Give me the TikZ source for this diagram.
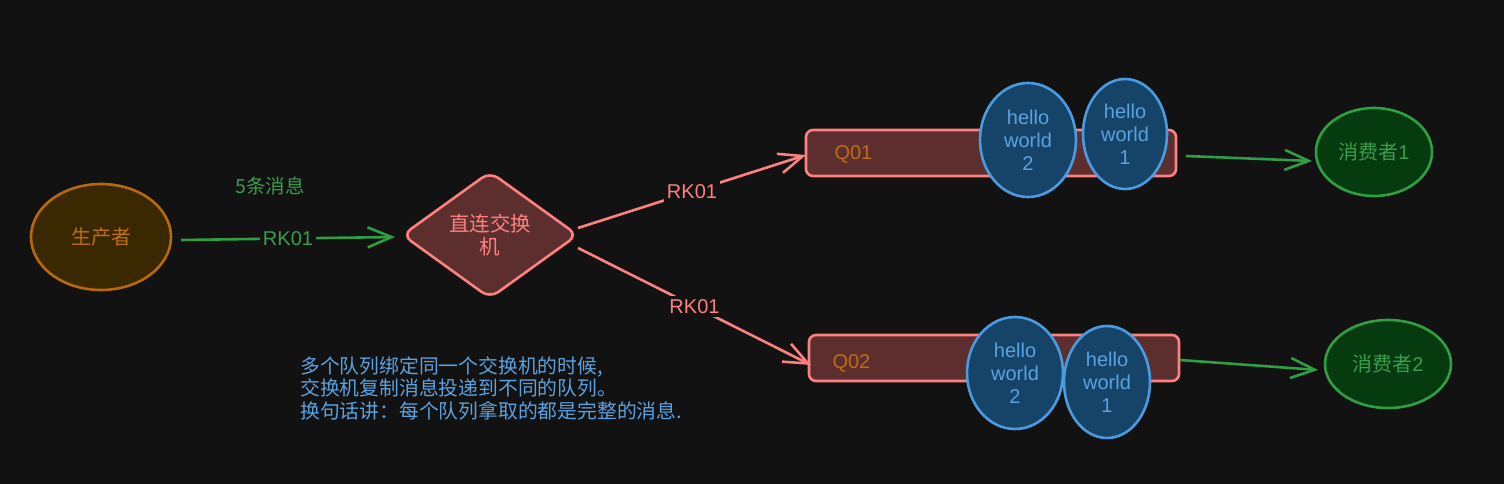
\documentclass[tikz,border=0pt]{standalone}
\usepackage{fontspec}
\setmainfont{Liberation Sans}
\newfontfamily\cjk{Noto Sans CJK SC}
\usetikzlibrary{arrows.meta,shapes.geometric,calc}
\definecolor{bg}{HTML}{121212}
\definecolor{ostroke}{HTML}{B8680A}
\definecolor{ofill}{HTML}{3A2800}
\definecolor{otext}{HTML}{C06C12}
\definecolor{pstroke}{HTML}{FF8080}
\definecolor{pfill}{HTML}{5C2E2E}
\definecolor{bstroke}{HTML}{4A9BE0}
\definecolor{bfill}{HTML}{164468}
\definecolor{btext}{HTML}{5AA2E0}
\definecolor{gstroke}{HTML}{2F9E44}
\definecolor{gfill}{HTML}{053B0F}
\definecolor{gtext}{HTML}{3A9D4C}
\tikzset{
  lbl/.style={font=\fontsize{20}{22}\selectfont, inner sep=3pt},
  ellbox/.style={ellipse, line width=2.6pt, inner sep=0pt, align=center},
  prod/.style={ellbox, draw=ostroke, fill=ofill, text=otext, font=\cjk\fontsize{20}{24}\selectfont},
  cons/.style={ellbox, draw=gstroke, fill=gfill, text=gtext, font=\fontsize{20}{24}\selectfont},
  msg/.style={ellbox, draw=bstroke, fill=bfill, text=btext, font=\fontsize{20}{23}\selectfont},
  queue/.style={draw=pstroke, fill=pfill, line width=2.6pt, rounded corners=7pt},
  qtext/.style={text=otext, font=\fontsize{20}{24}\selectfont, anchor=west},
  garrow/.style={draw=gstroke, line width=2.6pt, -{Straight Barb[length=24pt,width=20pt,line width=2.6pt]}},
  parrow/.style={draw=pstroke, line width=2.6pt, -{Straight Barb[length=24pt,width=20pt,line width=2.6pt]}},
  onbg/.style={fill=bg, lbl},
}
\begin{document}
\begin{tikzpicture}[x=1pt,y=-1pt]
\fill[bg] (0,0) rectangle (1504,484);
\useasboundingbox (0,0) rectangle (1504,484);

% producer
\node[prod, minimum width=140pt, minimum height=106pt] (prod) at (101,237) {生产者};
\node[text=gtext, font=\cjk\fontsize{19.5}{22}\selectfont] (five) at (270,186) {5条消息};

% exchange
\node[diamond, draw=pstroke, fill=pfill, line width=2.6pt, rounded corners=10pt,
      minimum width=176pt, minimum height=127pt, inner sep=0pt, aspect=1.4,
      text=pstroke, align=center, font=\cjk\fontsize{20.5}{23}\selectfont] (ex) at (490,235) {直连交换\\机};

% queues
\draw[queue] (806,130) rectangle (1176,176);
\coordinate (q1w) at (806,155);
\node[qtext] (q1t) at (831,154) {Q01};
\draw[queue] (809,335) rectangle (1179,381);
\coordinate (q2w) at (811,365);
\node[qtext] (q2t) at (829,363) {Q02};

% messages
\node[msg, minimum width=96pt, minimum height=114pt] (m12) at (1028,140) {hello\\world\\2};
\node[msg, minimum width=84pt, minimum height=110pt] (m11) at (1125,134) {hello\\world\\1};
\node[msg, minimum width=96pt, minimum height=112pt] (m22) at (1015,373) {hello\\world\\2};
\node[msg, minimum width=86pt, minimum height=112pt] (m21) at (1107,382) {hello\\world\\1};

% consumers
\node[cons, minimum width=116pt, minimum height=88pt] (c1) at (1374,152) {{\cjk 消费者}1};
\node[cons, minimum width=126pt, minimum height=88pt] (c2) at (1388,364) {{\cjk 消费者}2};

% connectors
\coordinate (a1s) at (181,240);
\coordinate (a1e) at (395,237);
\draw[garrow] (a1s) -- node[onbg, text=gtext] (l1) {RK01} (a1e);

\coordinate (a2s) at (578,228);
\draw[parrow] (a2s) -- node[onbg, text=pstroke] (l2) {RK01} (q1w);
\coordinate (a3s) at (578,248);
\draw[parrow] (a3s) -- node[onbg, text=pstroke] (l3) {RK01} (q2w);

\coordinate (a4s) at (1186,156);
\coordinate (a4e) at (1312,161);
\draw[garrow] (a4s) -- (a4e);
\coordinate (a5s) at (1180,360);
\coordinate (a5e) at (1318,370);
\draw[garrow] (a5s) -- (a5e);

% note
\node[anchor=north west, align=left, text=btext, inner sep=0pt,
      font=\cjk\fontsize{19.8}{22.5}\selectfont] (note) at (300,356)
  {多个队列绑定同一个交换机的时候,\\交换机复制消息投递到不同的队列。\\换句话讲：每个队列拿取的都是完整的消息.};
\end{tikzpicture}
\end{document}
